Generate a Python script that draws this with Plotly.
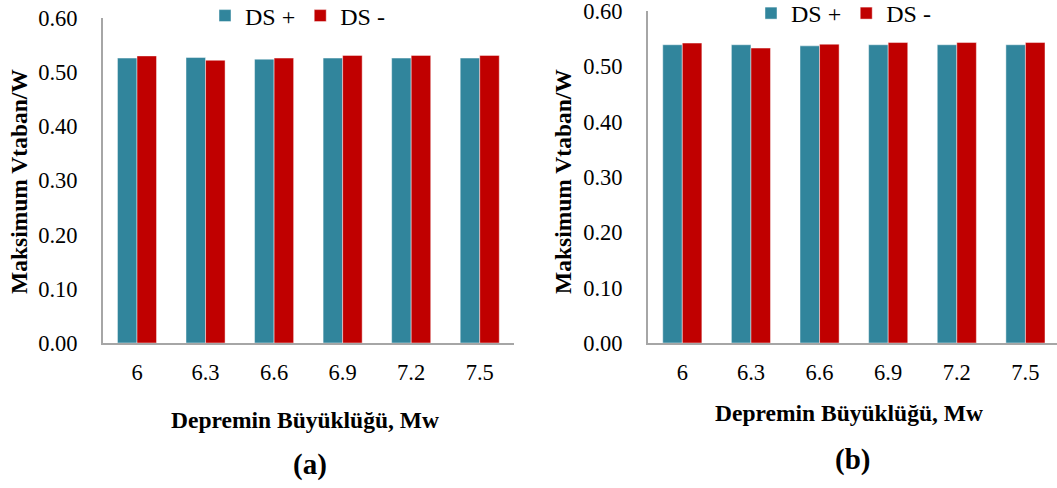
import plotly.graph_objects as go

W, H = 1057, 488

magnitudes = ["6", "6.3", "6.6", "6.9", "7.2", "7.5"]
a_ds_plus = [0.526, 0.527, 0.524, 0.526, 0.526, 0.526]
a_ds_minus = [0.530, 0.522, 0.526, 0.531, 0.531, 0.531]
b_ds_plus = [0.539, 0.539, 0.537, 0.539, 0.539, 0.539]
b_ds_minus = [0.542, 0.533, 0.540, 0.543, 0.543, 0.543]
y_ticks = [0.0, 0.1, 0.2, 0.3, 0.4, 0.5, 0.6]
y_tick_text = ["0.00", "0.10", "0.20", "0.30", "0.40", "0.50", "0.60"]

TEAL = "#31859C"
RED = "#C00000"
FONT = "Times New Roman, Liberation Serif, serif"


def px(x):
    return x / W


def py(y):
    return 1 - y / H


fig = go.Figure()
bar_line = dict(color="rgba(255,255,255,0.45)", width=1)
fig.add_trace(go.Bar(x=magnitudes, y=a_ds_plus, name="DS +", marker=dict(color=TEAL, line=bar_line),
                     xaxis="x", yaxis="y", legend="legend"))
fig.add_trace(go.Bar(x=magnitudes, y=a_ds_minus, name="DS -", marker=dict(color=RED, line=bar_line),
                     xaxis="x", yaxis="y", legend="legend"))
fig.add_trace(go.Bar(x=magnitudes, y=b_ds_plus, name="DS +", marker=dict(color=TEAL, line=bar_line),
                     xaxis="x2", yaxis="y2", legend="legend2"))
fig.add_trace(go.Bar(x=magnitudes, y=b_ds_minus, name="DS -", marker=dict(color=RED, line=bar_line),
                     xaxis="x2", yaxis="y2", legend="legend2"))

axis_line = dict(showline=True, linecolor="#A6A6A6", linewidth=2, showgrid=False, zeroline=False,
                 ticks="", automargin=False, ticklabeloverflow="allow")
tickfont = dict(family=FONT, size=22.5, color="#000")

fig.update_layout(
    template="none",
    width=W, height=H,
    margin=dict(l=0, r=0, t=0, b=0, autoexpand=False),
    paper_bgcolor="white", plot_bgcolor="white",
    barmode="group", bargap=0.43, bargroupgap=0,
    font=dict(family=FONT, color="#000"),
    xaxis=dict(domain=[px(103), px(514)], anchor="y", type="category", range=[-0.496, 5.5],
               tickfont=tickfont, ticklabelstandoff=8, **axis_line),
    yaxis=dict(domain=[py(343), py(18)], anchor="x", range=[0, 0.6], tickvals=y_ticks, ticktext=y_tick_text,
               tickfont=tickfont, ticklabelstandoff=19, **axis_line),
    xaxis2=dict(domain=[px(648), 1.0], anchor="y2", type="category", range=[-0.5, 5.46],
                tickfont=tickfont, ticklabelstandoff=8, **axis_line),
    yaxis2=dict(domain=[py(343), py(11)], anchor="x2", range=[0, 0.6], tickvals=y_ticks, ticktext=y_tick_text,
                tickfont=tickfont, ticklabelstandoff=19, **axis_line),
    legend=dict(orientation="h", x=px(205), y=py(16), xanchor="left", yanchor="middle",
                font=dict(family=FONT, size=24, color="#000"), itemwidth=30, bgcolor="rgba(0,0,0,0)"),
    legend2=dict(orientation="h", x=px(751), y=py(13.5), xanchor="left", yanchor="middle",
                 font=dict(family=FONT, size=24, color="#000"), itemwidth=30, bgcolor="rgba(0,0,0,0)"),
    showlegend=True,
)

ann_font = dict(family=FONT, size=23.5, color="#000")
annotations = [
    dict(text="<b>Maksimum Vtaban/W</b>", x=px(19), y=py(182), textangle=-90, font=ann_font),
    dict(text="<b>Maksimum Vtaban/W</b>", x=px(563), y=py(182), textangle=-90, font=ann_font),
    dict(text="<b>Depremin Büyüklüğü, Mw</b>", x=px(305), y=py(420), font=ann_font),
    dict(text="<b>Depremin Büyüklüğü, Mw</b>", x=px(849), y=py(413), font=ann_font),
    dict(text="<b>(a)</b>", x=px(310), y=py(464), font=dict(family=FONT, size=29, color="#000")),
    dict(text="<b>(b)</b>", x=px(852), y=py(459), font=dict(family=FONT, size=29, color="#000")),
]
for a in annotations:
    a.update(xref="paper", yref="paper", showarrow=False, xanchor="center", yanchor="middle")
fig.update_layout(annotations=annotations)

fig.write_html("out.html", config={"displayModeBar": False},
               post_script="document.body.style.margin='0px';document.body.style.overflow='hidden';")
